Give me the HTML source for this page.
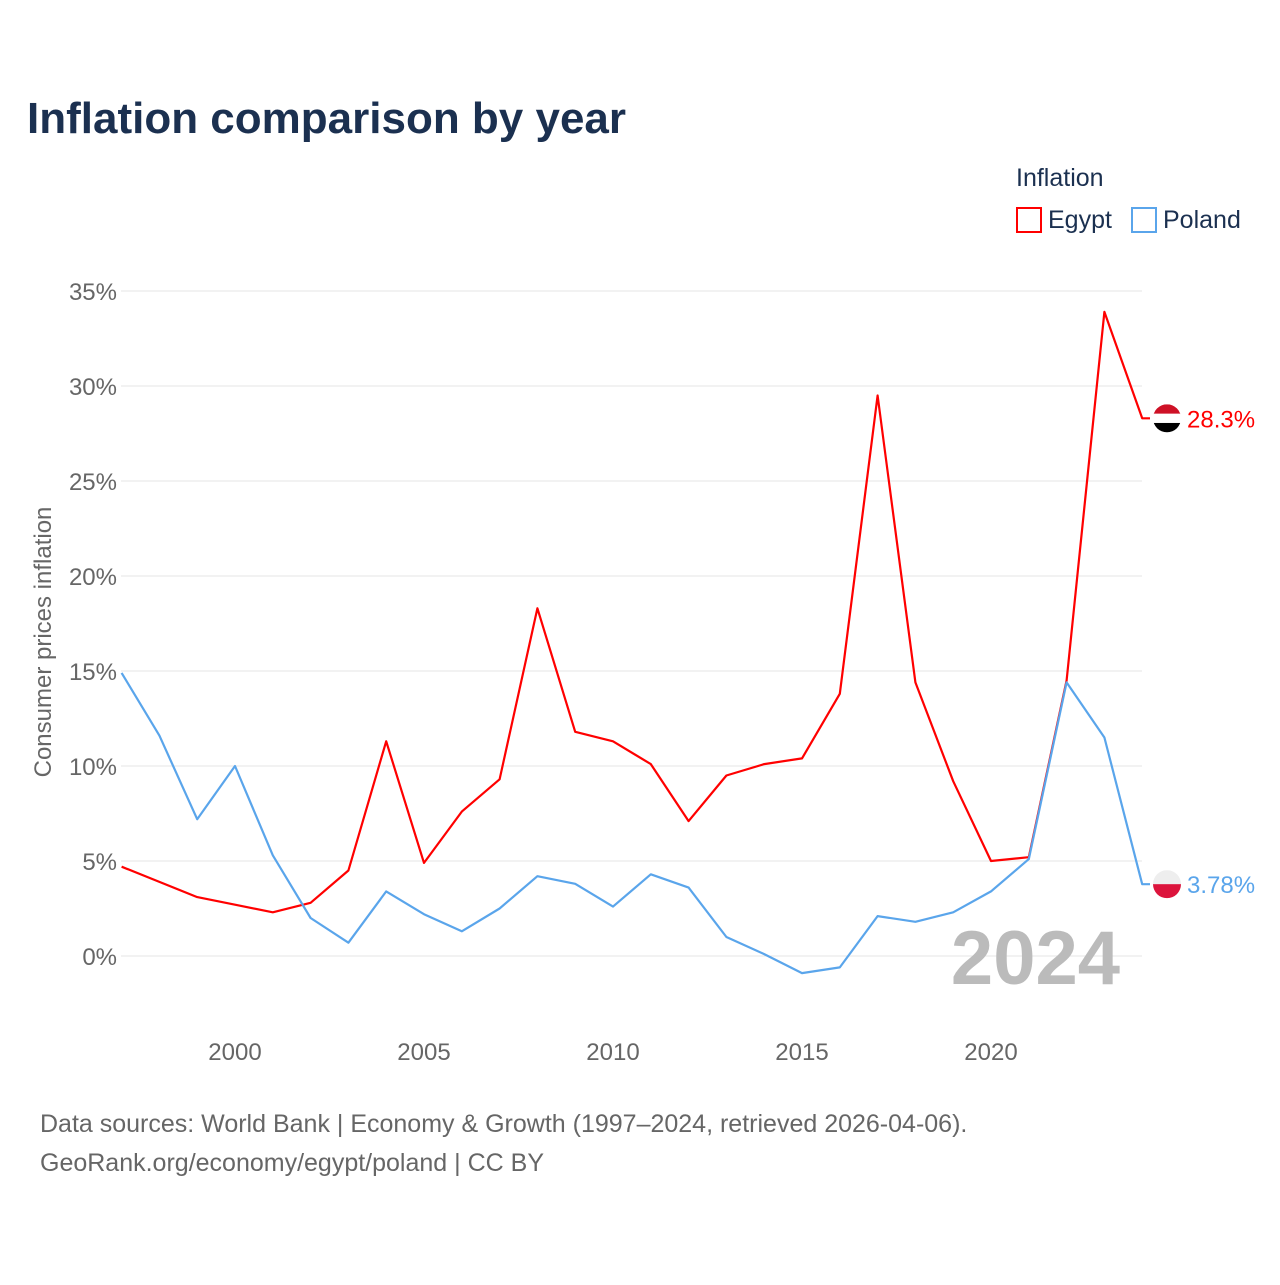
<!DOCTYPE html>
<html><head><meta charset="utf-8"><style>
body{margin:0;background:#fff;font-family:"Liberation Sans",sans-serif}
svg text{font-family:"Liberation Sans",sans-serif}
</style></head><body>
<svg id="chart" width="1280" height="1280">
<text x="27" y="133" font-size="44" font-weight="bold" fill="#1b3050">Inflation comparison by year</text>
<text x="1016" y="186" font-size="25" fill="#1b3050">Inflation</text>
<g><rect x="1017" y="208" width="24" height="24" fill="none" stroke="#ff0000" stroke-width="2"/><text x="1048" y="228" font-size="25" fill="#1b3050">Egypt</text></g>
<g><rect x="1132" y="208" width="24" height="24" fill="none" stroke="#5aa5eb" stroke-width="2"/><text x="1163" y="228" font-size="25" fill="#1b3050">Poland</text></g>
<g id="grid"></g><g id="lines"></g>
<text transform="translate(51,642) rotate(-90)" text-anchor="middle" font-size="24" fill="#666">Consumer prices inflation</text>
<text x="1120" y="984" text-anchor="end" font-size="76" font-weight="bold" fill="#bbb">2024</text>
<text x="40" y="1132" font-size="25" fill="#666">Data sources: World Bank | Economy &amp; Growth (1997–2024, retrieved 2026-04-06).</text>
<text x="40" y="1171" font-size="25" fill="#666">GeoRank.org/economy/egypt/poland | CC BY</text>
</svg>
<script>
const years=[1997,1998,1999,2000,2001,2002,2003,2004,2005,2006,2007,2008,2009,2010,2011,2012,2013,2014,2015,2016,2017,2018,2019,2020,2021,2022,2023,2024];
const egypt=[4.7,3.9,3.1,2.7,2.3,2.8,4.5,11.3,4.9,7.6,9.3,18.3,11.8,11.3,10.1,7.1,9.5,10.1,10.4,13.8,29.5,14.4,9.2,5.0,5.2,14.5,33.9,28.3];
const poland=[14.9,11.6,7.2,10.0,5.3,2.0,0.7,3.4,2.2,1.3,2.5,4.2,3.8,2.6,4.3,3.6,1.0,0.1,-0.9,-0.6,2.1,1.8,2.3,3.4,5.1,14.4,11.5,3.78];
const yTicks=[0,5,10,15,20,25,30,35];
const xTicks=[2000,2005,2010,2015,2020];
const NS="http://www.w3.org/2000/svg";
const X=v=>121.6+(v-1997)*37.8, Y=v=>956-v*19;
function mk(t,a,p){const e=document.createElementNS(NS,t);for(const k in a)e.setAttribute(k,a[k]);p.appendChild(e);return e;}
const g=document.getElementById('grid'),L=document.getElementById('lines');
yTicks.forEach(t=>{
 const l=mk('line',{x1:121,x2:1142,y1:Y(t),y2:Y(t),stroke:'#e6e6e6','stroke-width':1},g);
 
 
 const tx=mk('text',{x:117,y:Y(t)+9,'text-anchor':'end','font-size':24,fill:'#666'},g);tx.textContent=t+'%';
 
 
});
xTicks.forEach(t=>{
 const tx=mk('text',{x:X(t),y:1060,'text-anchor':'middle','font-size':24,fill:'#666'},g);tx.textContent=t;
 
 
});
function series(vals,col,name,label,flag){
 let d=vals.map((v,i)=>(i?'L':'M')+X(years[i]).toFixed(1)+','+Y(v).toFixed(1)).join('');
 const last=vals[vals.length-1];
 d+='L1150,'+Y(last).toFixed(1);
 const p=mk('path',{d:d,fill:'none',stroke:col,'stroke-width':2.2,'stroke-linejoin':'round'},L);
 
 
 const cy=Y(last);
 const fg=mk('g',{},L);
 
 
 const cp=mk('clipPath',{id:'c'+name},fg);mk('circle',{cx:1167,cy:cy,r:14},cp);
 const inner=mk('g',{'clip-path':'url(#c'+name+')'},fg);
 flag.forEach((c,i)=>mk('rect',{x:1153,y:cy-14+i*28/flag.length,width:28,height:28/flag.length+0.5,fill:c},inner));
 const t=mk('text',{x:1187,y:cy+9,'font-size':24,fill:col},L);t.textContent=label;
 
 
}
series(egypt,'#ff0000','egypt','28.3%',['#ce1126','#ffffff','#000000']);
series(poland,'#5aa5eb','poland','3.78%',['#eeeeee','#dc143c']);
</script>
</body></html>
